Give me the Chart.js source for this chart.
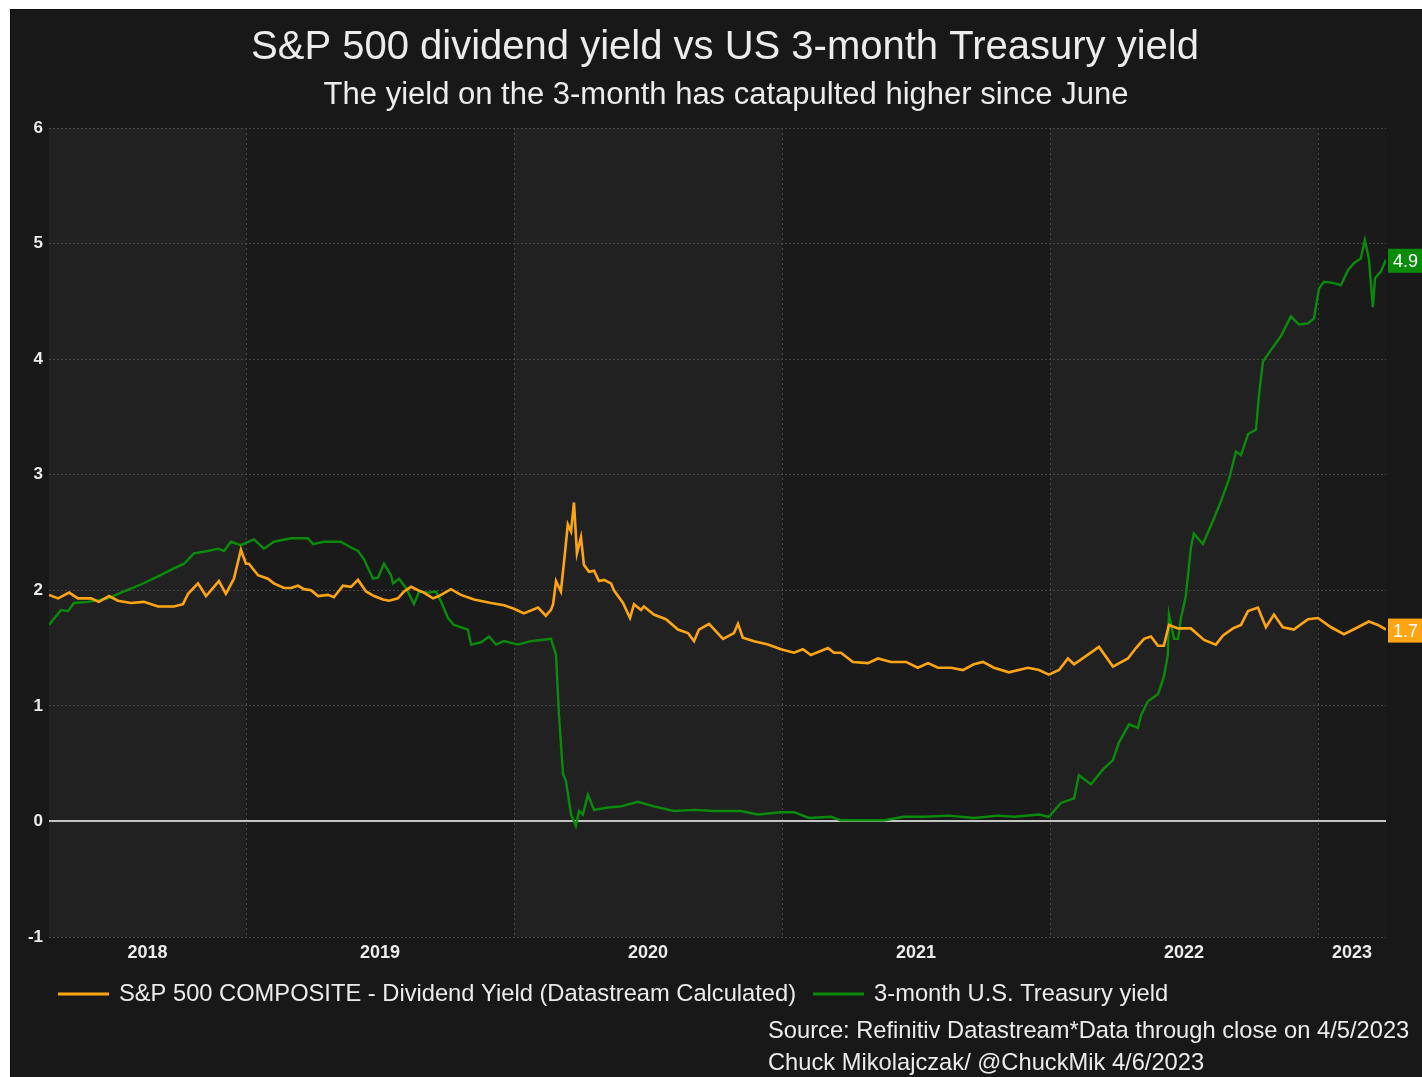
<!DOCTYPE html>
<html>
<head>
<meta charset="utf-8">
<script src="https://cdn.jsdelivr.net/npm/chart.js@4/dist/chart.umd.min.js"></script>
<style>
  html, body { margin: 0; padding: 0; background: #ffffff; }
  #wrap { position: absolute; left: 10px; top: 9px; width: 1412px; height: 1068px; background: #181818; border-left: 1px solid #0c0c0c; border-top: 1px solid #0c0c0c; box-sizing: border-box; }
  canvas { display: block; }
</style>
</head>
<body>
<div id="wrap"><canvas id="c" width="1412" height="1068"></canvas></div>
<script>
// ---------- DATA ----------
const titleText = "S&P 500 dividend yield vs US 3-month Treasury yield";
const subtitleText = "The yield on the 3-month has catapulted higher since June";
const seriesNames = ["S&P 500 COMPOSITE - Dividend Yield (Datastream Calculated)", "3-month U.S. Treasury yield"];
const footerLines = ["Source: Refinitiv Datastream*Data through close on 4/5/2023", "Chuck Mikolajczak/ @ChuckMik 4/6/2023"];

// x values are fractional years
const divDates = [2018.265,2018.299,2018.340,2018.373,2018.422,2018.451,2018.489,2018.522,2018.571,2018.619,2018.672,2018.731,2018.765,2018.784,2018.821,2018.851,2018.899,2018.925,2018.955,2018.981,2019.000,2019.011,2019.045,2019.082,2019.104,2019.142,2019.168,2019.194,2019.216,2019.243,2019.269,2019.306,2019.328,2019.362,2019.392,2019.418,2019.448,2019.478,2019.511,2019.534,2019.567,2019.590,2019.616,2019.642,2019.664,2019.698,2019.720,2019.765,2019.802,2019.851,2019.914,2019.963,2020.000,2020.037,2020.090,2020.119,2020.138,2020.146,2020.157,2020.175,2020.187,2020.201,2020.213,2020.224,2020.235,2020.250,2020.261,2020.280,2020.299,2020.317,2020.336,2020.362,2020.373,2020.407,2020.433,2020.448,2020.474,2020.485,2020.522,2020.567,2020.612,2020.649,2020.672,2020.690,2020.728,2020.780,2020.821,2020.836,2020.854,2020.896,2020.948,2020.996,2021.045,2021.078,2021.108,2021.172,2021.194,2021.220,2021.265,2021.321,2021.358,2021.407,2021.463,2021.507,2021.545,2021.582,2021.631,2021.675,2021.716,2021.750,2021.791,2021.847,2021.918,2021.959,2021.996,2022.034,2022.067,2022.090,2022.146,2022.183,2022.235,2022.291,2022.321,2022.351,2022.377,2022.403,2022.425,2022.444,2022.478,2022.526,2022.575,2022.619,2022.646,2022.683,2022.713,2022.739,2022.776,2022.806,2022.836,2022.869,2022.910,2022.963,2023.000,2023.049,2023.097,2023.149,2023.190,2023.224,2023.254];
const divYield = [1.96,1.93,1.98,1.93,1.93,1.90,1.95,1.91,1.89,1.90,1.86,1.86,1.88,1.97,2.06,1.95,2.08,1.97,2.10,2.35,2.23,2.23,2.13,2.10,2.06,2.02,2.02,2.04,2.01,2.00,1.95,1.96,1.94,2.04,2.03,2.09,1.99,1.95,1.92,1.91,1.93,1.99,2.03,2.00,1.98,1.93,1.95,2.01,1.96,1.92,1.89,1.87,1.84,1.80,1.85,1.78,1.83,1.88,2.08,1.99,2.25,2.57,2.51,2.76,2.32,2.46,2.22,2.16,2.17,2.08,2.09,2.06,2.00,1.89,1.76,1.88,1.83,1.86,1.79,1.75,1.66,1.63,1.56,1.66,1.71,1.58,1.63,1.71,1.59,1.56,1.53,1.49,1.46,1.49,1.44,1.50,1.46,1.46,1.38,1.37,1.41,1.38,1.38,1.33,1.37,1.33,1.33,1.31,1.36,1.38,1.33,1.29,1.33,1.31,1.27,1.31,1.41,1.36,1.45,1.51,1.34,1.41,1.50,1.58,1.60,1.52,1.52,1.70,1.67,1.67,1.57,1.53,1.61,1.67,1.70,1.82,1.85,1.68,1.79,1.68,1.66,1.75,1.76,1.68,1.62,1.68,1.73,1.70,1.66];

const billDates = [2018.265,2018.310,2018.336,2018.358,2018.410,2018.485,2018.545,2018.608,2018.672,2018.731,2018.769,2018.806,2018.858,2018.896,2018.918,2018.944,2018.981,2019.030,2019.067,2019.104,2019.168,2019.231,2019.250,2019.291,2019.354,2019.392,2019.418,2019.440,2019.474,2019.493,2019.515,2019.541,2019.549,2019.571,2019.597,2019.627,2019.646,2019.679,2019.709,2019.728,2019.754,2019.776,2019.828,2019.840,2019.877,2019.907,2019.933,2019.963,2020.015,2020.063,2020.101,2020.138,2020.157,2020.168,2020.183,2020.194,2020.213,2020.231,2020.243,2020.257,2020.276,2020.299,2020.351,2020.399,2020.463,2020.522,2020.597,2020.672,2020.746,2020.847,2020.910,2020.996,2021.045,2021.101,2021.183,2021.220,2021.306,2021.381,2021.455,2021.530,2021.623,2021.716,2021.806,2021.866,2021.959,2021.996,2022.041,2022.090,2022.108,2022.153,2022.198,2022.235,2022.257,2022.295,2022.328,2022.340,2022.366,2022.403,2022.425,2022.440,2022.444,2022.463,2022.478,2022.489,2022.507,2022.526,2022.537,2022.571,2022.608,2022.638,2022.668,2022.694,2022.713,2022.739,2022.769,2022.780,2022.795,2022.825,2022.862,2022.899,2022.929,2022.963,2022.985,2023.004,2023.022,2023.056,2023.086,2023.112,2023.134,2023.160,2023.175,2023.190,2023.205,2023.213,2023.235,2023.254];
const billYield = [1.70,1.83,1.82,1.89,1.90,1.93,1.99,2.05,2.12,2.19,2.23,2.32,2.34,2.36,2.34,2.42,2.39,2.44,2.36,2.42,2.45,2.45,2.40,2.42,2.42,2.37,2.34,2.27,2.10,2.11,2.23,2.13,2.06,2.10,2.02,1.88,1.99,1.98,1.99,1.90,1.76,1.70,1.66,1.53,1.55,1.60,1.53,1.56,1.53,1.56,1.57,1.58,1.44,0.92,0.41,0.35,0.06,-0.04,0.09,0.06,0.23,0.10,0.12,0.13,0.17,0.13,0.09,0.10,0.09,0.09,0.06,0.08,0.08,0.03,0.04,0.01,0.01,0.01,0.04,0.04,0.05,0.03,0.05,0.04,0.06,0.04,0.16,0.20,0.40,0.32,0.45,0.53,0.68,0.84,0.81,0.92,1.04,1.10,1.25,1.44,1.79,1.58,1.58,1.76,1.95,2.37,2.49,2.40,2.60,2.77,2.96,3.20,3.17,3.35,3.39,3.69,3.98,4.08,4.20,4.37,4.30,4.31,4.35,4.61,4.67,4.66,4.64,4.77,4.83,4.87,5.03,4.87,4.45,4.70,4.76,4.86];

const yearStarts = [2019, 2020, 2021, 2022, 2023];
const yearLabels = ["2018", "2019", "2020", "2021", "2022", "2023"];
const yMin = -1, yMax = 6, yStep = 1;

// ---------- STYLE ----------
const ORANGE = "#ffa514";
const GREEN = "#0a8c0a";
const TEXT = "#ececec";
const FONT = "'Liberation Sans', Arial, sans-serif";

function toPoints(xs, ys) { return xs.map((x, i) => ({ x: x, y: ys[i] })); }

const bandPlugin = {
  id: "bands",
  beforeDraw(chart) {
    const { ctx, chartArea: a, scales: { x } } = chart;
    const bounds = [x.min, ...yearStarts, x.max];
    ctx.save();
    for (let i = 0; i < bounds.length - 1; i++) {
      const x0 = x.getPixelForValue(bounds[i]);
      const x1 = x.getPixelForValue(bounds[i + 1]);
      ctx.fillStyle = (i % 2 === 0) ? "#212121" : "#1a1a1a";
      ctx.fillRect(x0, a.top, x1 - x0, a.bottom - a.top);
    }
    ctx.strokeStyle = "#4a4a4a";
    ctx.lineWidth = 1;
    ctx.setLineDash([2, 3]);
    yearStarts.forEach(v => {
      const px = Math.round(x.getPixelForValue(v)) + 0.5;
      ctx.beginPath(); ctx.moveTo(px, a.top); ctx.lineTo(px, a.bottom); ctx.stroke();
    });
    ctx.restore();
  },
  beforeDatasetsDraw(chart) {
    const { ctx, chartArea: a, scales: { y } } = chart;
    const py = Math.round(y.getPixelForValue(0));
    ctx.save();
    ctx.strokeStyle = "#c4c4c4";
    ctx.lineWidth = 2;
    ctx.beginPath(); ctx.moveTo(a.left, py); ctx.lineTo(a.right, py); ctx.stroke();
    ctx.restore();
  },
  afterDatasetsDraw(chart) {
    const { ctx, chartArea: a } = chart;
    ctx.save();
    chart.data.datasets.forEach((ds, i) => {
      const meta = chart.getDatasetMeta(i);
      const last = meta.data[meta.data.length - 1];
      const val = ds.data[ds.data.length - 1].y;
      const bx = a.right + 2, bw = 35, bh = 24;
      const by = last.y - bh / 2 + 1;
      ctx.fillStyle = ds.borderColor;
      ctx.fillRect(bx, by, bw, bh);
      ctx.fillStyle = "#ffffff";
      ctx.font = "18px " + FONT;
      ctx.textAlign = "center";
      ctx.textBaseline = "middle";
      ctx.fillText(val.toFixed(1), bx + bw / 2, last.y + 2);
    });
    ctx.restore();
  },
  afterDraw(chart) {
    const ctx = chart.ctx;
    ctx.save();
    ctx.fillStyle = TEXT;
    ctx.textBaseline = "middle";
    ctx.textAlign = "center";
    ctx.font = "40px " + FONT;
    ctx.fillText(titleText, 714, 38);
    ctx.font = "31px " + FONT;
    ctx.fillText(subtitleText, 715, 85);
    // legend
    ctx.textAlign = "left";
    ctx.font = "23.7px " + FONT;
    let lx = 47;
    const ly = 984;
    chart.data.datasets.forEach((ds, i) => {
      ctx.strokeStyle = ds.borderColor;
      ctx.lineWidth = 3;
      ctx.beginPath(); ctx.moveTo(lx, ly); ctx.lineTo(lx + 51, ly); ctx.stroke();
      ctx.fillStyle = TEXT;
      ctx.fillText(ds.label, lx + 61, ly);
      lx = lx + 61 + ctx.measureText(ds.label).width + 17;
    });
    ctx.fillText(footerLines[0], 757, 1021);
    ctx.fillText(footerLines[1], 757, 1053);
    ctx.restore();
  }
};

new Chart(document.getElementById("c"), {
  type: "line",
  data: {
    datasets: [
      { label: seriesNames[0], data: toPoints(divDates, divYield), borderColor: ORANGE, backgroundColor: ORANGE, borderWidth: 2.6, pointRadius: 0, tension: 0 },
      { label: seriesNames[1], data: toPoints(billDates, billYield), borderColor: GREEN, backgroundColor: GREEN, borderWidth: 2.4, pointRadius: 0, tension: 0 }
    ]
  },
  options: {
    responsive: false,
    animation: false,
    layout: { padding: { top: 118, right: 37, bottom: 111, left: 0 } },
    plugins: { legend: { display: false }, title: { display: false }, tooltip: { enabled: false } },
    scales: {
      x: {
        type: "linear",
        min: divDates[0],
        max: divDates[divDates.length - 1],
        afterBuildTicks(scale) {
          const bounds = [scale.min, ...yearStarts, scale.max];
          const t = [];
          for (let i = 0; i < bounds.length - 1; i++) t.push({ value: (bounds[i] + bounds[i + 1]) / 2 });
          scale.ticks = t;
        },
        afterFit(scale) { scale.height = 30; },
        grid: { display: false },
        border: { display: false },
        ticks: {
          autoSkip: false, maxRotation: 0, padding: -3,
          color: TEXT, font: { family: FONT, size: 18, weight: "bold" },
          callback: (v, i) => yearLabels[i]
        }
      },
      y: {
        min: yMin, max: yMax,
        afterFit(scale) { scale.width = 38; },
        border: { display: false, dash: [2, 2] },
        grid: {
          drawTicks: false,
          color: (c) => (c.tick && c.tick.value === 0) ? "rgba(0,0,0,0)" : "#474747",
          lineWidth: 1
        },
        ticks: {
          stepSize: yStep, padding: 6,
          color: TEXT, font: { family: FONT, size: 17, weight: "bold" }
        }
      }
    }
  },
  plugins: [bandPlugin]
});
</script>
</body>
</html>
